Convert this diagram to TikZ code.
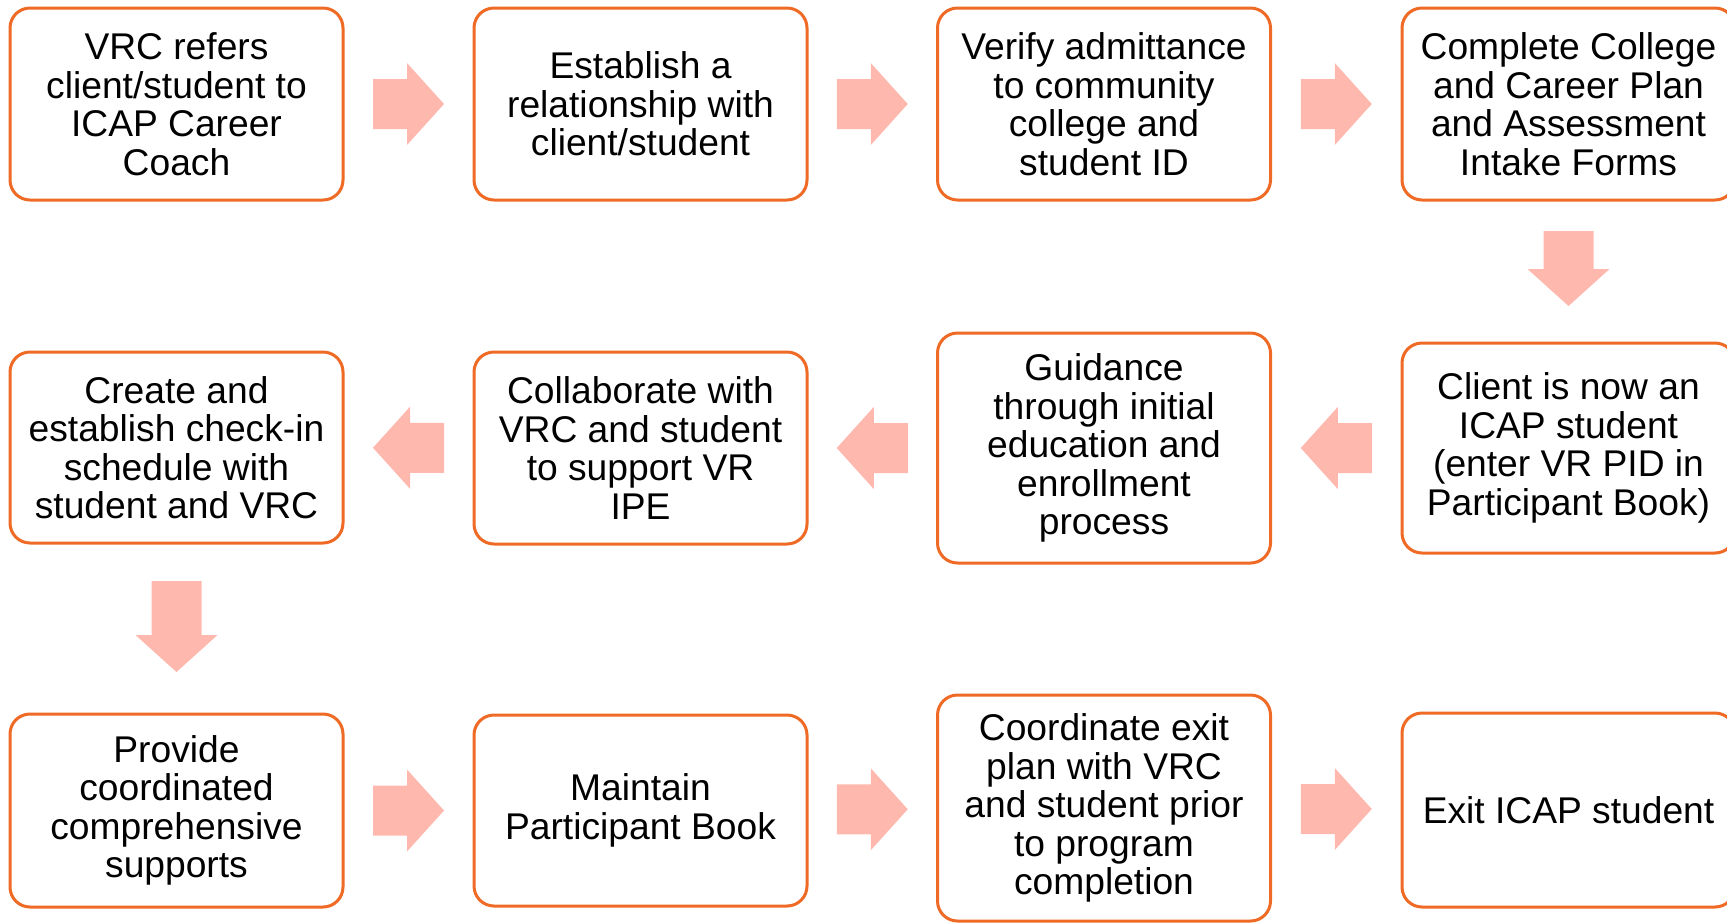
\documentclass[tikz,border=0pt]{standalone}
\usepackage{fontspec}
\setmainfont{Liberation Sans}
\usetikzlibrary{calc}

\definecolor{boxline}{HTML}{EE6A25}
\definecolor{arrowpink}{HTML}{FFB8AE}

\tikzset{
	stage/.style={draw=boxline, line width=1.5pt, rounded corners=10pt, fill=white,
		minimum width=166.5pt, align=center, inner sep=2pt,
		font=\fontsize{18.6pt}{19.25pt}\selectfont},
	pics/fatarrow/.style={code={
		\fill[arrowpink] ({-#1/2},-25) -- ({#1/2-37},-25) -- ({#1/2-37},-41) -- ({#1/2},0)
			-- ({#1/2-37},41) -- ({#1/2-37},25) -- ({-#1/2},25) -- cycle;
	}}
}

\begin{document}
\begin{tikzpicture}[x=0.5pt,y=0.5pt]
		\useasboundingbox (0,0) rectangle (1727,-923);
		
		% top row, left to right
		\node[stage, minimum height=96pt] (vrc) at (176.5,-104) {VRC refers\\client/student to\\ICAP Career\\Coach};
		\node[stage, minimum height=96pt] (relate) at (640.5,-104) {Establish a\\relationship with\\client/student};
		\node[stage, minimum height=96pt] (verify) at (1104,-104) {Verify admittance\\to community\\college and\\student ID};
		\node[stage, minimum height=96pt] (plan) at (1568.5,-104) {Complete College\\and Career Plan\\and Assessment\\Intake Forms};
		
		% middle row, right to left
		\node[stage, minimum height=105pt] (client) at (1568.5,-448) {Client is now an\\ICAP student\\(enter VR PID in\\Participant Book)};
		\node[stage, minimum height=115pt] (guide) at (1104,-448) {Guidance\\through initial\\education and\\enrollment\\process};
		\node[stage, minimum height=96pt] (collab) at (640.5,-448) {Collaborate with\\VRC and student\\to support VR\\IPE};
		\node[stage, minimum height=95.5pt] (checkin) at (176.5,-447.5) {Create and\\establish check-in\\schedule with\\student and VRC};
		
		% bottom row, left to right
		\node[stage, minimum height=96.5pt] (supports) at (176.5,-810.5) {Provide\\coordinated\\comprehensive\\supports};
		\node[stage, minimum height=95.5pt] (book) at (640.5,-810.5) {Maintain\\Participant Book};
		\node[stage, minimum height=113pt] (exitplan) at (1104,-808) {Coordinate exit\\plan with VRC\\and student prior\\to program\\completion};
		\node[stage, minimum height=97pt] (exit) at (1568.5,-810) {Exit ICAP student};
		
		% block arrows between the steps
		\pic at ($(vrc.east)!.5!(relate.west)$) {fatarrow=71};
		\pic at ($(relate.east)!.5!(verify.west)$) {fatarrow=71};
		\pic at ($(verify.east)!.5!(plan.west)$) {fatarrow=71};
		\pic[rotate=-90] at ($(plan.south)!.5!(client.north)+(0,3)$) {fatarrow=75};
		\pic[rotate=180] at ($(client.west)!.5!(guide.east)$) {fatarrow=71};
		\pic[rotate=180] at ($(guide.west)!.5!(collab.east)$) {fatarrow=71};
		\pic[rotate=180] at ($(collab.west)!.5!(checkin.east)$) {fatarrow=71};
		\pic[rotate=-90] at ($(checkin.south)!.5!(supports.north)+(0,2)$) {fatarrow=91};
		\pic at ($(supports.east)!.5!(book.west)$) {fatarrow=71};
		\pic at ($(book.east)!.5!(exitplan.west)$) {fatarrow=71};
		\pic at ($(exitplan.east)!.5!(exit.west)$) {fatarrow=71};
\end{tikzpicture}
\end{document}
